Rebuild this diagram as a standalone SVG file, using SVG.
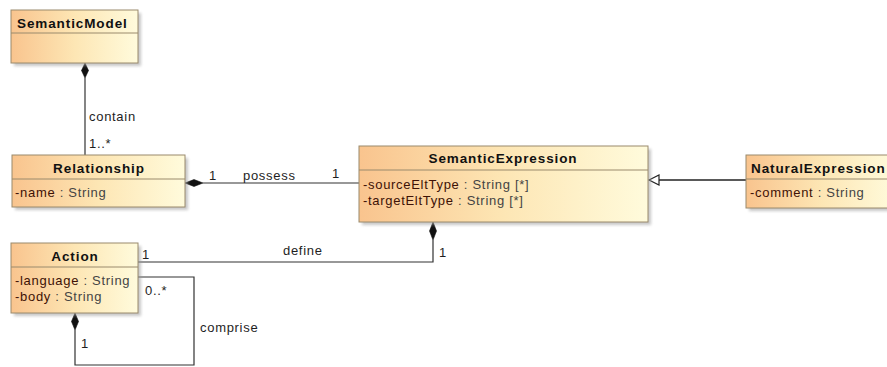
<svg xmlns="http://www.w3.org/2000/svg" width="887" height="367" viewBox="0 0 887 367">
  <style>
    text { font-family: "Liberation Sans", Arial, sans-serif; font-size: 13px; letter-spacing: 0.7px; fill: #1e1e1e; }
    .title { font-weight: bold; font-size: 13.5px; fill: #111; letter-spacing: 0.9px; }
    .attr { fill: #3e1206; }
    .type { fill: #444; }
    .box { fill: url(#classFill); stroke: #9a8a6c; stroke-width: 1; }
    .shadow { fill: #9a9a9a; opacity: 0.55; filter: url(#soft); }
    .sep { stroke: #9a8a6c; stroke-width: 1; }
    .conn { fill: none; stroke: #333; stroke-width: 1.2; }
    .gen { fill: none; stroke: #222; stroke-width: 1.6; }
    .diamond { fill: #111; stroke: #111; stroke-width: 0.6; }
  </style>
  <defs>
    <linearGradient id="classFill" x1="0" y1="0.5" x2="1" y2="0.5">
      <stop offset="0" stop-color="#f9c48e"/>
      <stop offset="0.5" stop-color="#fde6b4"/>
      <stop offset="1" stop-color="#fffbdc"/>
    </linearGradient>
    <filter id="soft" x="-10%" y="-10%" width="120%" height="130%">
      <feGaussianBlur stdDeviation="1.5"/>
    </filter>
  </defs>

  <rect width="887" height="367" fill="#ffffff"/>

  <!-- connectors -->
  <g id="connectors">
    <!-- contain: SemanticModel <>- Relationship -->
    <line class="conn" x1="85" y1="78" x2="85" y2="155"/>
    <polygon class="diamond" points="85,63 88.5,70.5 85,78 81.5,70.5"/>
    <text x="89" y="121">contain</text>
    <text x="89" y="148">1..*</text>

    <!-- possess: Relationship <>- SemanticExpression -->
    <line class="conn" x1="203" y1="183" x2="359" y2="183"/>
    <polygon class="diamond" points="185,183 194,179.5 203,183 194,186.5"/>
    <text x="209" y="180">1</text>
    <text x="243" y="180">possess</text>
    <text x="332" y="178">1</text>

    <!-- define: SemanticExpression <>- Action -->
    <polyline class="conn" points="433,240 433,262 138,262"/>
    <polygon class="diamond" points="433,222 436.5,231 433,240 429.5,231"/>
    <text x="142" y="259">1</text>
    <text x="283" y="255">define</text>
    <text x="439" y="257">1</text>

    <!-- comprise: Action self association -->
    <polyline class="conn" points="138,277 194,277 194,365 75,365 75,330"/>
    <polygon class="diamond" points="75,313 78.5,321.5 75,330 71.5,321.5"/>
    <text x="145" y="295">0..*</text>
    <text x="200" y="332">comprise</text>
    <text x="81" y="348">1</text>

    <!-- generalization: NaturalExpression -> SemanticExpression -->
    <line class="gen" x1="659" y1="180" x2="746" y2="180"/>
    <polygon points="649,180 659,175 659,185" fill="#ffffff" stroke="#222" stroke-width="1.2"/>
  </g>

  <!-- SemanticModel -->
  <g id="SemanticModel">
    <rect class="shadow" x="14" y="13" width="127" height="53"/>
    <rect class="box" x="11" y="10" width="127" height="53"/>
    <line class="sep" x1="11" y1="33" x2="138" y2="33"/>
    <text class="title" x="17" y="28">SemanticModel</text>
  </g>

  <!-- Relationship -->
  <g id="Relationship">
    <rect class="shadow" x="15" y="158" width="173" height="52"/>
    <rect class="box" x="12" y="155" width="173" height="52"/>
    <line class="sep" x1="12" y1="179" x2="185" y2="179"/>
    <text class="title" x="99" y="173" text-anchor="middle">Relationship</text>
    <text x="15" y="197"><tspan class="attr">-name</tspan><tspan class="type"> : String</tspan></text>
  </g>

  <!-- SemanticExpression -->
  <g id="SemanticExpression">
    <rect class="shadow" x="362" y="149" width="289" height="76"/>
    <rect class="box" x="359" y="146" width="289" height="76"/>
    <line class="sep" x1="359" y1="170" x2="648" y2="170"/>
    <text class="title" x="503" y="163" text-anchor="middle">SemanticExpression</text>
    <text x="363" y="189"><tspan class="attr">-sourceEltType</tspan><tspan class="type"> : String [*]</tspan></text>
    <text x="363" y="205"><tspan class="attr">-targetEltType</tspan><tspan class="type"> : String [*]</tspan></text>
  </g>

  <!-- NaturalExpression -->
  <g id="NaturalExpression">
    <rect class="shadow" x="749" y="158" width="150" height="53"/>
    <rect class="box" x="746" y="155" width="150" height="53"/>
    <line class="sep" x1="746" y1="179" x2="896" y2="179"/>
    <text class="title" x="751" y="173">NaturalExpression</text>
    <text x="750" y="197"><tspan class="attr">-comment</tspan><tspan class="type"> : String</tspan></text>
  </g>

  <!-- Action -->
  <g id="Action">
    <rect class="shadow" x="14" y="246" width="127" height="70"/>
    <rect class="box" x="11" y="243" width="127" height="70"/>
    <line class="sep" x1="11" y1="267" x2="138" y2="267"/>
    <text class="title" x="75" y="261" text-anchor="middle">Action</text>
    <text x="15" y="285"><tspan class="attr">-language</tspan><tspan class="type"> : String</tspan></text>
    <text x="15" y="301"><tspan class="attr">-body</tspan><tspan class="type"> : String</tspan></text>
  </g>
</svg>
